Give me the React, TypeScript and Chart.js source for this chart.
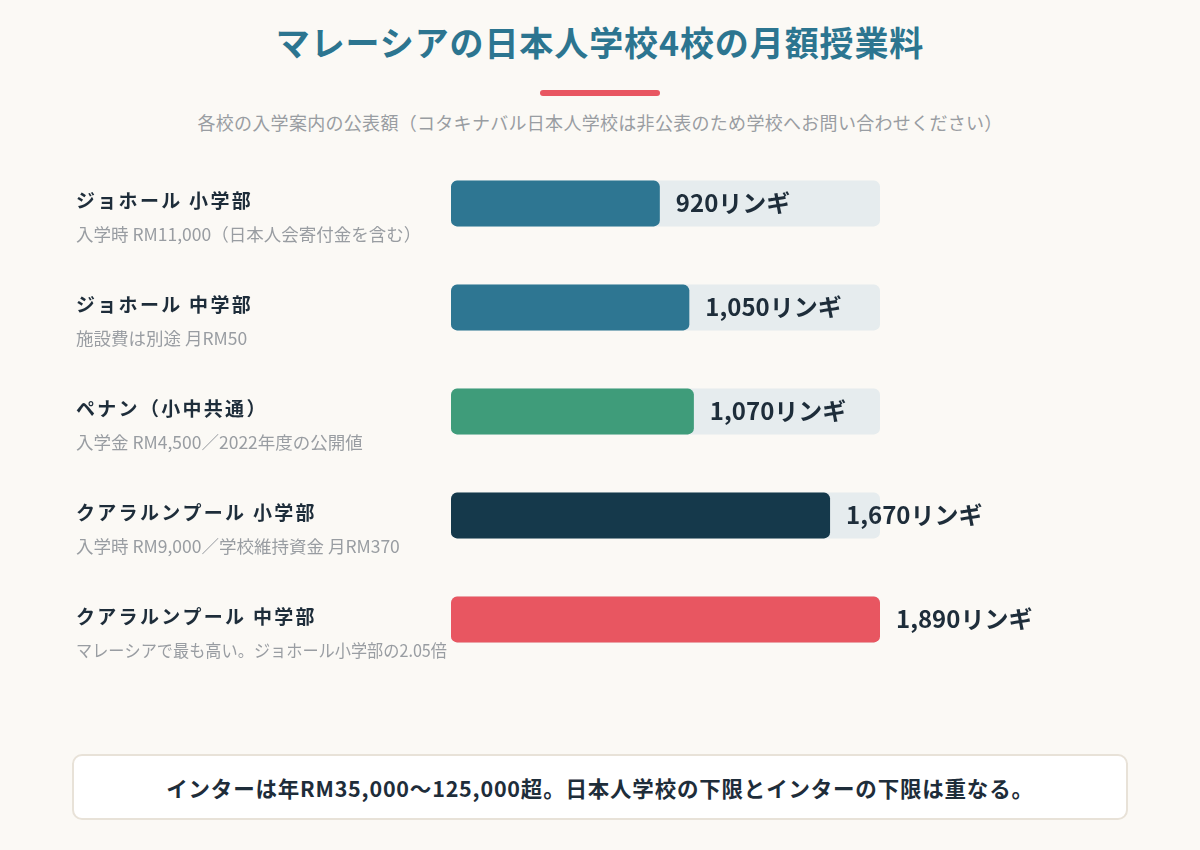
import React, { useEffect, useRef } from 'react';
import { Chart, registerables, Plugin } from 'chart.js';

Chart.register(...registerables);

// data
const SCHOOLS = [
  'ジョホール 小学部',
  'ジョホール 中学部',
  'ペナン（小中共通）',
  'クアラルンプール 小学部',
  'クアラルンプール 中学部',
];
const NOTES = [
  '入学時 RM11,000（日本人会寄付金を含む）',
  '施設費は別途 月RM50',
  '入学金 RM4,500／2022年度の公開値',
  '入学時 RM9,000／学校維持資金 月RM370',
  'マレーシアで最も高い。ジョホール小学部の2.05倍',
];
const FEES = [920, 1050, 1070, 1670, 1890];
const UNIT = 'リンギ';
const SCALE_MAX = Math.max(...FEES);

const BAR_COLORS = ['#2e7692', '#2e7692', '#3f9c7a', '#15394b', '#e85661'];
const TRACK_COLOR = '#e6ecee';
const INK = '#1e2d3a';
const MUTED = '#999da2';
const FONT = '"Noto Sans CJK JP", "Noto Sans", sans-serif';

const labelPlugin: Plugin<'bar'> = {
  id: 'rowLabels',
  afterDatasetsDraw(chart) {
    const { ctx } = chart;
    const yScale = chart.scales.y;
    const bars = chart.getDatasetMeta(0).data;
    ctx.save();
    ctx.textBaseline = 'middle';
    ctx.textAlign = 'left';
    SCHOOLS.forEach((name, i) => {
      const cy = yScale.getPixelForValue(i);
      // school name
      ctx.fillStyle = INK;
      ctx.font = `bold 19px ${FONT}`;
      (ctx as any).letterSpacing = '2.3px';
      ctx.fillText(name, 76, cy - 3);
      // note under the name
      ctx.fillStyle = MUTED;
      ctx.font = `17.5px ${FONT}`;
      (ctx as any).letterSpacing = '0px';
      ctx.fillText(NOTES[i], 76, cy + 31, 371);
      // value at bar end
      const bar = bars[i] as any;
      ctx.fillStyle = INK;
      ctx.font = `bold 24px ${FONT}`;
      ctx.fillText(`${FEES[i].toLocaleString('en-US')}${UNIT}`, bar.x + 16, cy - 1);
    });
    ctx.restore();
  },
};

const FeeChart: React.FC = () => {
  const canvasRef = useRef<HTMLCanvasElement>(null);
  const chartRef = useRef<Chart<'bar'> | null>(null);

  useEffect(() => {
    if (!canvasRef.current) return;
    if (chartRef.current) chartRef.current.destroy();

    chartRef.current = new Chart(canvasRef.current, {
      type: 'bar',
      data: {
        labels: SCHOOLS,
        datasets: [
          {
            label: '月額授業料',
            data: FEES,
            backgroundColor: BAR_COLORS,
            borderRadius: 6,
            borderSkipped: false,
            grouped: false,
            order: 0,
            barPercentage: 0.44,
            categoryPercentage: 1,
          },
          {
            label: 'track',
            data: FEES.map(() => SCALE_MAX),
            backgroundColor: TRACK_COLOR,
            borderRadius: 6,
            borderSkipped: false,
            grouped: false,
            order: 1,
            barPercentage: 0.44,
            categoryPercentage: 1,
          },
        ],
      },
      options: {
        indexAxis: 'y',
        animation: false,
        responsive: true,
        maintainAspectRatio: false,
        layout: { padding: { left: 451, right: 320, top: 1.5, bottom: 8.5 } },
        scales: {
          x: { display: false, min: 0, max: SCALE_MAX },
          y: { display: false },
        },
        plugins: {
          legend: { display: false },
          tooltip: { enabled: false },
        },
      },
      plugins: [labelPlugin],
    });

    return () => {
      if (chartRef.current) {
        chartRef.current.destroy();
        chartRef.current = null;
      }
    };
  }, []);

  return (
    <div style={{ position: 'absolute', left: 0, top: 150, width: 1200, height: 530 }}>
      <canvas ref={canvasRef} />
    </div>
  );
};

export default function App() {
  return (
    <div
      style={{
        position: 'absolute',
        left: 0,
        top: 0,
        width: 1200,
        height: 850,
        background: '#fbf9f5',
        fontFamily: FONT,
        overflow: 'hidden',
      }}
    >
      <div
        style={{
          position: 'absolute',
          top: 20,
          left: 0,
          width: 1200,
          height: 44,
          lineHeight: '44px',
          textAlign: 'center',
          fontSize: 34,
          fontWeight: 700,
          color: '#2c7590',
          letterSpacing: 0.9,
        }}
      >
        マレーシアの日本人学校4校の月額授業料
      </div>
      <div
        style={{
          position: 'absolute',
          top: 90,
          left: 540,
          width: 120,
          height: 6,
          borderRadius: 3,
          background: '#e85661',
        }}
      />
      <div
        style={{
          position: 'absolute',
          top: 110,
          left: 0,
          width: 1200,
          height: 24,
          lineHeight: '24px',
          textAlign: 'center',
          fontSize: 18,
          letterSpacing: 0.3,
          color: MUTED,
        }}
      >
        各校の入学案内の公表額（コタキナバル日本人学校は非公表のため学校へお問い合わせください）
      </div>
      <FeeChart />
      <div
        style={{
          position: 'absolute',
          left: 72,
          top: 754,
          width: 1056,
          height: 66,
          boxSizing: 'border-box',
          background: '#ffffff',
          border: '2px solid #e8e2d8',
          borderRadius: 10,
          display: 'flex',
          alignItems: 'center',
          justifyContent: 'center',
          fontSize: 21.5,
          letterSpacing: 0.8,
          fontWeight: 700,
          color: INK,
        }}
      >
        インターは年RM35,000〜125,000超。日本人学校の下限とインターの下限は重なる。
      </div>
    </div>
  );
}
